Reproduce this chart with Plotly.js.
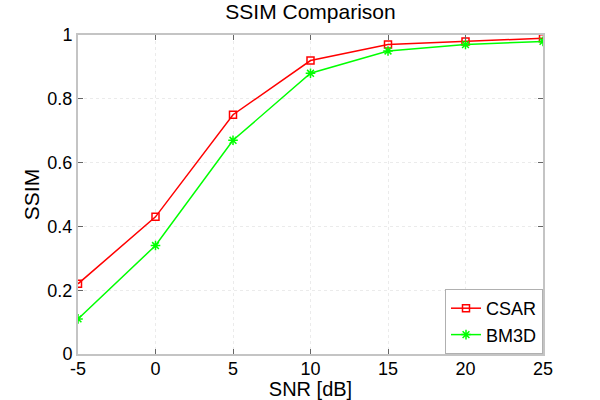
<!DOCTYPE html>
<html>
<head>
<meta charset="utf-8">
<script src="https://cdn.plot.ly/plotly-3.0.1.min.js"></script>
<style>
  html, body { margin: 0; padding: 0; background: #fff; }
  #chart { width: 600px; height: 400px; }
</style>
</head>
<body>
<div id="chart"></div>
<script>
// SNR (dB) on the x axis, SSIM per method
const snr = [-5, 0, 5, 10, 15, 20, 25];
const snrText = ["-5", "0", "5", "10", "15", "20", "25"];
const ssimCsar = [0.22, 0.43, 0.75, 0.92, 0.97, 0.98, 0.99];
const ssimBm3d = [0.11, 0.34, 0.67, 0.88, 0.95, 0.97, 0.98];
const yTicks = [0, 0.2, 0.4, 0.6, 0.8, 1];
const yTickText = ["0", "0.2", "0.4", "0.6", "0.8", "1"];

const font = "'Liberation Sans', Arial, sans-serif";

const axisBase = {
  showline: true,
  linecolor: "#c4c4c4",
  linewidth: 2,
  mirror: "ticks",
  ticks: "inside",
  ticklen: 5,
  tickcolor: "#666",
  tickwidth: 1,
  showgrid: true,
  gridcolor: "#ebebeb",
  griddash: "dot",
  gridwidth: 1,
  zeroline: false,
  tickfont: { family: font, size: 18, color: "#000" },
};

const traces = [
  {
    x: snr,
    y: ssimCsar,
    name: "CSAR",
    type: "scatter",
    mode: "lines+markers",
    line: { color: "#ff0000", width: 1.5 },
    marker: { symbol: "square-open", size: 7, color: "#ff0000", line: { width: 1.5 } },
  },
  {
    x: snr,
    y: ssimBm3d,
    name: "BM3D",
    type: "scatter",
    mode: "lines+markers",
    line: { color: "#00ff00", width: 1.5 },
    marker: { symbol: "asterisk-open", size: 8, color: "#00ff00", line: { width: 1.5, color: "#00ff00" } },
  },
];

const layout = {
  width: 600,
  height: 400,
  margin: { l: 78, r: 57, t: 35, b: 46 },
  paper_bgcolor: "#fff",
  plot_bgcolor: "#fff",
  font: { family: font, color: "#000" },
  title: {
    text: "SSIM Comparison",
    font: { family: font, size: 21, color: "#000" },
    xref: "paper",
    x: 0.5,
    y: 0.97,
    yanchor: "middle",
  },
  xaxis: {
    ...axisBase,
    range: [-5, 25],
    tickmode: "array",
    tickvals: snr,
    ticktext: snrText,
    ticklabelstandoff: -3,
    title: { text: "SNR [dB]", font: { family: font, size: 20, color: "#000" }, standoff: 4 },
  },
  yaxis: {
    ...axisBase,
    range: [0, 1],
    tickmode: "array",
    tickvals: yTicks,
    ticktext: yTickText,
    title: { text: "SSIM", font: { family: font, size: 21, color: "#000" }, standoff: 2 },
  },
  legend: {
    x: 1,
    xanchor: "right",
    y: 0,
    yanchor: "bottom",
    bgcolor: "#fff",
    bordercolor: "#b0b0b0",
    borderwidth: 1,
    font: { family: font, size: 18, color: "#000" },
    tracegroupgap: 0,
    itemwidth: 30,
  },
  showlegend: true,
};

Plotly.newPlot("chart", traces, layout, { displayModeBar: false, staticPlot: true });
</script>
</body>
</html>
